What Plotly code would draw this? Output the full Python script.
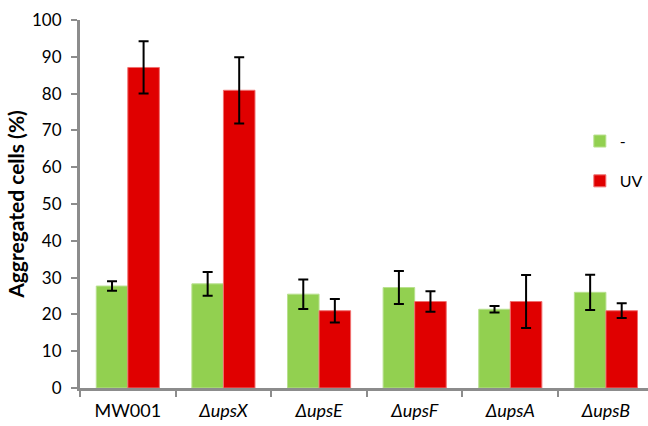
import plotly.graph_objects as go

categories = ["MW001", "<i>ΔupsX</i>", "<i>ΔupsE</i>", "<i>ΔupsF</i>", "<i>ΔupsA</i>", "<i>ΔupsB</i>"]
ctrl_values = [27.7, 28.3, 25.5, 27.3, 21.4, 26.0]
ctrl_errors = [1.3, 3.2, 4.0, 4.5, 0.9, 4.8]
uv_values = [87.1, 80.9, 21.0, 23.5, 23.5, 21.0]
uv_errors = [7.1, 9.0, 3.2, 2.8, 7.2, 2.0]
y_ticks = [0, 10, 20, 30, 40, 50, 60, 70, 80, 90, 100]

FONT = "Lato, 'Open Sans', sans-serif"
AXIS_GRAY = "#8c8c8c"

fig = go.Figure()
fig.add_trace(go.Bar(
    x=categories, y=ctrl_values, name="-", legendgroup="a",
    marker=dict(color="#92D050", line=dict(color="#b8e08e", width=1)),
    error_y=dict(type="data", array=ctrl_errors, color="black", thickness=2, width=5),
))
fig.add_trace(go.Bar(
    x=categories, y=uv_values, name="UV", legendgroup="b",
    marker=dict(color="#E00000", line=dict(color="#f07070", width=1)),
    error_y=dict(type="data", array=uv_errors, color="black", thickness=2, width=5),
))

fig.update_layout(
    width=648, height=426,
    margin=dict(l=80, r=0, t=20, b=38, autoexpand=False),
    paper_bgcolor="white", plot_bgcolor="white",
    barmode="group", bargap=0.34, bargroupgap=0,
    font=dict(family=FONT, size=17, color="black"),
    showlegend=True,
    legend=dict(x=0.880, y=0.717, xanchor="left", yanchor="top",
                traceorder="grouped", tracegroupgap=16,
                font=dict(size=16), itemwidth=30, bgcolor="rgba(0,0,0,0)"),
    xaxis=dict(
        range=[-0.5, 5.44], showline=True, linecolor=AXIS_GRAY, linewidth=3,
        ticks="outside", tickson="boundaries", ticklen=6, tickwidth=2, tickcolor=AXIS_GRAY,
        showgrid=False, tickfont=dict(size=18), ticklabelstandoff=4,
    ),
    yaxis=dict(
        range=[0, 100], tickvals=y_ticks, showline=True, linecolor=AXIS_GRAY, linewidth=3,
        ticks="outside", ticklen=6, tickwidth=2, tickcolor=AXIS_GRAY,
        showgrid=False, zeroline=False, tickfont=dict(size=17), ticklabelstandoff=6,
        title=dict(text="<b>Aggregated cells (%)</b>", font=dict(size=21), standoff=2),
    ),
)

fig.write_html(
    "out.html",
    config={"displayModeBar": False},
    post_script="document.body.style.margin='0';document.body.style.overflow='hidden';",
)
